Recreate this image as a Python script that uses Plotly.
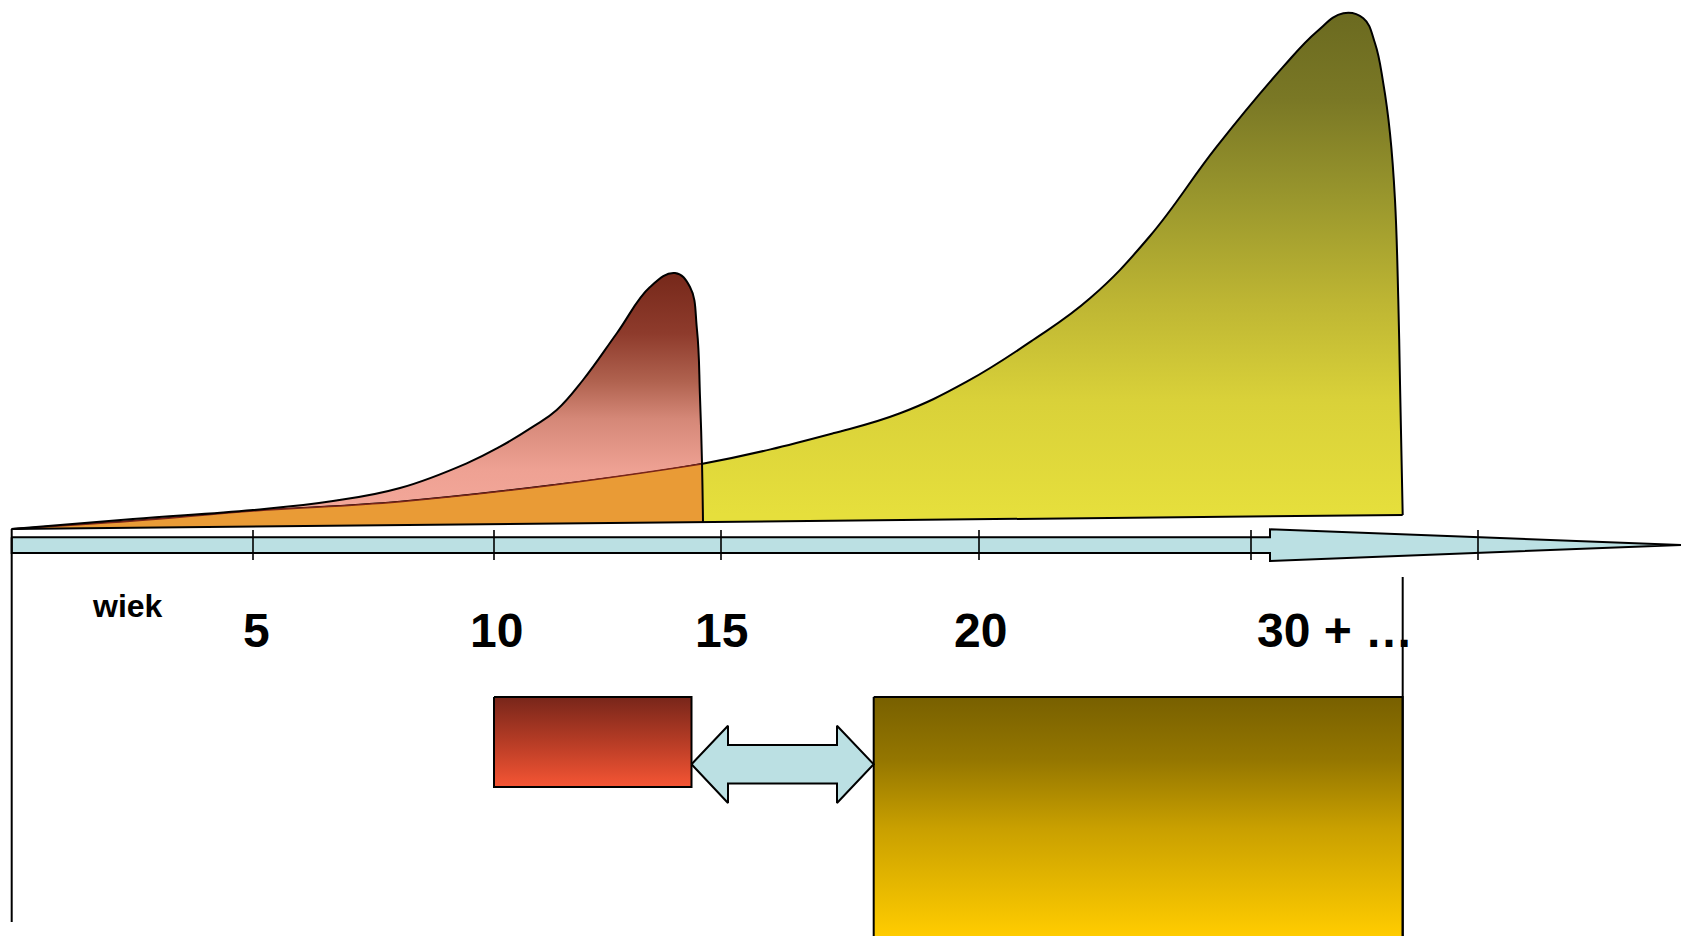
import plotly.graph_objects as go

W, H = 1681, 936

# ---- data (canvas units, y grows downward) ----
base_x = [11.7, 1402.7]
base_y = [529, 515]

red_peak_x = [11.7, 133, 253, 333, 400, 466.7, 500, 533, 556.7, 583, 617, 650, 675, 690, 697, 700, 702, 703]
red_peak_y = [529, 519, 510, 501, 488, 463.3, 446.7, 426.7, 410, 380, 333, 287, 273, 287, 330, 397, 463, 522]

yellow_peak_x = [11.7, 133, 253, 400, 550, 700, 833, 900, 966.7, 1033, 1090, 1150,
                 1216.7, 1283.3, 1316.7, 1343.3, 1363.3, 1375, 1383.3, 1390, 1395, 1398.3, 1400, 1402.7]
yellow_peak_y = [529, 521, 511, 501.7, 485.5, 464.3, 433.3, 413.3, 381.7, 340, 298.3, 236,
                 146.7, 66.7, 31.7, 13.3, 18.3, 43.3, 83.3, 133.3, 200, 300, 383, 515]

overlap_end_x = 703
overlap_end_y = 463.8

axis_x = [11.7, 1270, 1270, 1681, 1270, 1270, 11.7, 11.7]
axis_y = [537.3, 537.3, 529.3, 545, 561, 553, 553, 537.3]

tick_x = [253, 494, 721, 979, 1251, 1478]
tick_top, tick_bottom = 530, 560

tick_labels = ["5", "10", "15", "20"]
tick_label_x = [256, 496, 721.5, 980]
last_label = "30 + …"
last_label_x = 1255
axis_title = "wiek"

red_box_x = [494, 691.5, 691.5, 494, 494]
red_box_y = [697, 697, 787, 787, 697]

yellow_box_x = [873.7, 1402.7, 1402.7, 873.7, 873.7]
yellow_box_y = [697, 697, 945, 945, 697]

darrow_x = [691.5, 728, 728, 837, 837, 873.7, 837, 837, 728, 728, 691.5]
darrow_y = [764.3, 725.7, 745, 745, 725.7, 764.3, 803, 783.6, 783.6, 803, 764.3]

left_line_x, left_line_y = [11.7, 11.7], [529, 922]
right_line_x, right_line_y = [1402.7, 1402.7], [577, 945]

BLUE = "#BBE0E3"
ORANGE = "#E99B36"

fig = go.Figure()


def base_between(x_end):
    y_end = base_y[0] + (base_y[1] - base_y[0]) * (x_end - base_x[0]) / (base_x[1] - base_x[0])
    return [base_x[0], x_end], [base_y[0], y_end]


def invisible(x, y):
    fig.add_trace(go.Scatter(x=x, y=y, mode="lines", line=dict(width=0), hoverinfo="skip"))


# red peak fill
bx, by = base_between(red_peak_x[-1])
invisible(bx, by)
fig.add_trace(go.Scatter(
    x=red_peak_x, y=red_peak_y, mode="lines", line=dict(width=0, shape="spline", smoothing=1.2),
    fill="tonexty", fillcolor="#E8A090",
    fillgradient=dict(type="vertical", start=273, stop=525,
                      colorscale=[[0, "#76281A"], [0.24, "#8E3B2C"], [0.43, "#B0624F"],
                                  [0.58, "#D58878"], [0.78, "#EEA193"], [1, "#F5AA9C"]]),
    hoverinfo="skip"))

# yellow peak fill
invisible(base_x, base_y)
fig.add_trace(go.Scatter(
    x=yellow_peak_x, y=yellow_peak_y, mode="lines",
    line=dict(width=2, color="black", shape="spline", smoothing=1.2),
    fill="tonexty", fillcolor="#D0C836",
    fillgradient=dict(type="vertical", start=13, stop=515,
                      colorscale=[[0, "#6B6A20"], [0.173, "#7A7825"], [0.372, "#9A972D"],
                                  [0.572, "#BDB533"], [0.77, "#D9D139"], [1, "#E6DF3C"]]),
    hoverinfo="skip"))

# overlap (orange) region
ox = [x for x in yellow_peak_x if x < overlap_end_x]
oy = [y for x, y in zip(yellow_peak_x, yellow_peak_y) if x < overlap_end_x]
ox.append(overlap_end_x)
oy.append(overlap_end_y)
bx, by = base_between(overlap_end_x)
invisible(bx, by)
fig.add_trace(go.Scatter(
    x=ox, y=oy, mode="lines", line=dict(width=1.5, color="#7A2418", shape="spline", smoothing=1.2),
    fill="tonexty", fillcolor=ORANGE, hoverinfo="skip"))

# red peak outline
fig.add_trace(go.Scatter(x=red_peak_x, y=red_peak_y, mode="lines",
                         line=dict(width=2, color="black", shape="spline", smoothing=1.2), hoverinfo="skip"))
# base line
fig.add_trace(go.Scatter(x=base_x, y=base_y, mode="lines", line=dict(width=2, color="black"), hoverinfo="skip"))

# axis arrow
fig.add_trace(go.Scatter(x=axis_x, y=axis_y, mode="lines", fill="toself", fillcolor=BLUE,
                         line=dict(width=2, color="black"), hoverinfo="skip"))

# ticks
tx, ty = [], []
for x in tick_x:
    tx += [x, x, None]
    ty += [tick_top, tick_bottom, None]
fig.add_trace(go.Scatter(x=tx, y=ty, mode="lines", line=dict(width=1.6, color="black"), hoverinfo="skip"))

# vertical guide line
fig.add_trace(go.Scatter(x=left_line_x, y=left_line_y, mode="lines", line=dict(width=2, color="black"), hoverinfo="skip"))

# boxes
fig.add_trace(go.Scatter(
    x=red_box_x, y=red_box_y, mode="lines", fill="toself", fillcolor="#C04028",
    fillgradient=dict(type="vertical", start=697, stop=787,
                      colorscale=[[0, "#78261A"], [0.48, "#B43B25"], [1, "#F55534"]]),
    line=dict(width=2, color="black"), hoverinfo="skip"))
fig.add_trace(go.Scatter(
    x=yellow_box_x, y=yellow_box_y, mode="lines", fill="toself", fillcolor="#C9A000",
    fillgradient=dict(type="vertical", start=697, stop=936,
                      colorscale=[[0, "#786000"], [0.26, "#947600"], [0.55, "#C9A000"], [1, "#FFCC00"]]),
    line=dict(width=2, color="black"), hoverinfo="skip"))
fig.add_trace(go.Scatter(x=right_line_x, y=right_line_y, mode="lines", line=dict(width=2, color="black"), hoverinfo="skip"))

# double arrow
fig.add_trace(go.Scatter(x=darrow_x, y=darrow_y, mode="lines", fill="toself", fillcolor=BLUE,
                         line=dict(width=2, color="black"), hoverinfo="skip"))

FONT = "Liberation Sans, Arial, sans-serif"
ann = []
for lab, x in zip(tick_labels, tick_label_x):
    ann.append(dict(x=x, y=630.5, text=lab, showarrow=False, xanchor="center", yanchor="middle",
                    font=dict(family=FONT, size=48, color="black", weight="bold")))
ann.append(dict(x=last_label_x, y=630.5, text=last_label, showarrow=False, xanchor="left", yanchor="middle",
                font=dict(family=FONT, size=48, color="black", weight="bold")))
ann.append(dict(x=127, y=606, text=axis_title, showarrow=False, xanchor="center", yanchor="middle",
                font=dict(family=FONT, size=32, color="black", weight="bold")))

fig.update_layout(
    width=W, height=H, margin=dict(l=0, r=0, t=0, b=0),
    paper_bgcolor="white", plot_bgcolor="white", showlegend=False,
    xaxis=dict(range=[0, W], visible=False, fixedrange=True),
    yaxis=dict(range=[H, 0], visible=False, fixedrange=True),
    annotations=ann,
)

fig.write_html("out.html", config={"displayModeBar": False},
               post_script="document.body.style.margin='0px';document.body.style.overflow='hidden';")
